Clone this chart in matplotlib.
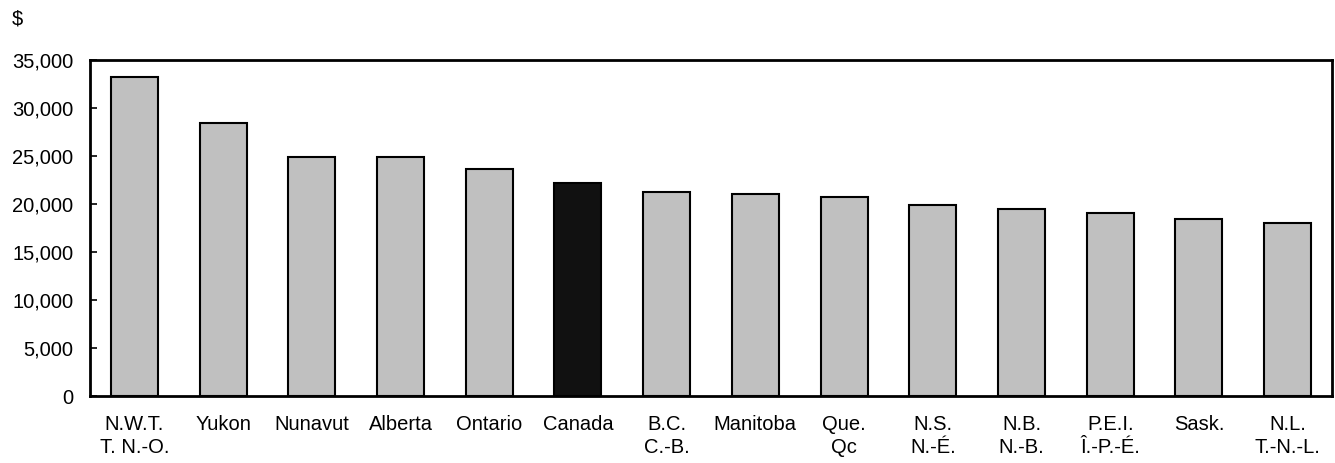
import matplotlib.pyplot as plt

plt.rcParams['font.family'] = ['Liberation Sans', 'DejaVu Sans']

labels = ['N.W.T.\nT. N.-O.', 'Yukon', 'Nunavut', 'Alberta', 'Ontario', 'Canada',
          'B.C.\nC.-B.', 'Manitoba', 'Que.\nQc', 'N.S.\nN.-É.', 'N.B.\nN.-B.',
          'P.E.I.\nÎ.-P.-É.', 'Sask.', 'N.L.\nT.-N.-L.']
values = [33200, 28400, 24900, 24900, 23600, 22200, 21200, 21000, 20700,
          19900, 19500, 19100, 18400, 18050]
colors = ['#111111' if l == 'Canada' else '#c0c0c0' for l in labels]

fig = plt.figure(figsize=(13.35, 4.63), dpi=100)
ax = fig.add_axes([90 / 1335, 1 - 396 / 463, 1242 / 1335, 336 / 463])

x = range(len(labels))
ax.bar(x, values, width=0.53, color=colors, edgecolor='black', linewidth=1.5)

ax.set_xlim(-0.5, len(labels) - 0.5)
ax.set_ylim(0, 35000)
ax.set_yticks(range(0, 35001, 5000))
ax.set_yticklabels([f'{v:,}' for v in range(0, 35001, 5000)])
ax.set_xticks(list(x))
ax.set_xticklabels(labels, linespacing=1.3)

ax.tick_params(axis='y', direction='in', length=5, width=1.2, labelsize=14.5, pad=12)
ax.tick_params(axis='x', length=0, labelsize=14.5, pad=13.5)

bwith = 2
for s in ['bottom', 'left', 'top', 'right']:
    ax.spines[s].set_linewidth(bwith)

fig.text(12 / 1335, 1 - 19 / 463, '$', fontsize=14.5, va='center', ha='left')

fig.savefig('out.png', dpi=100)
